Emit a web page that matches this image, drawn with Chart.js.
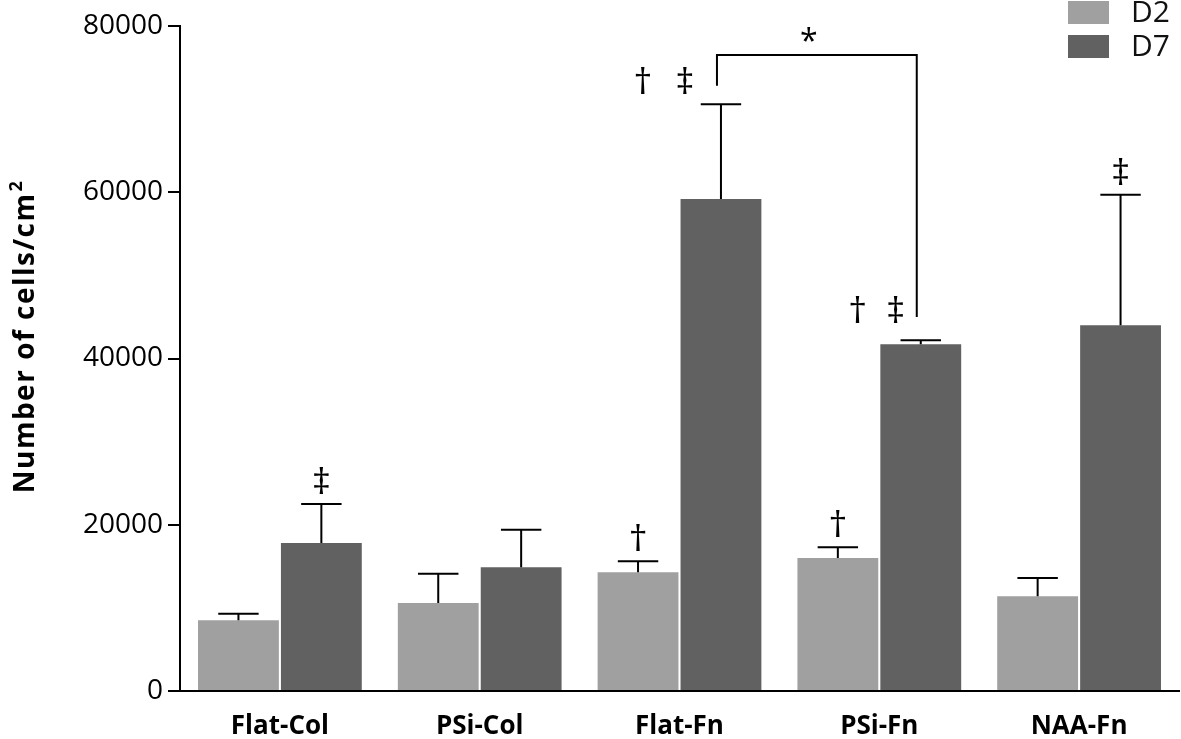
<!DOCTYPE html>
<html>
<head>
<meta charset="utf-8">
<script src="https://cdn.jsdelivr.net/npm/chart.js@4.4.0/dist/chart.umd.min.js"></script>
<style>
  html, body { margin: 0; padding: 0; background: #fff; }
</style>
</head>
<body>
<canvas id="chart" width="1181" height="739"></canvas>
<script>
const categories = ['Flat-Col', 'PSi-Col', 'Flat-Fn', 'PSi-Fn', 'NAA-Fn'];
const seriesNames = ['D2', 'D7'];
const d2Mean = [8500, 10600, 14300, 16000, 11400];
const d2Sd = [800, 3500, 1300, 1300, 2200];
const d7Mean = [17800, 14900, 59200, 41700, 44000];
const d7Sd = [4700, 4500, 11400, 500, 15700];
const yTicks = [0, 20000, 40000, 60000, 80000];

// significance symbols: [category, series, symbol, shift from bar centre px, extra lift px]
const marks = [
    [0, 1, '\u2021', 0, 0],
    [2, 0, '\u2020', 0, 0],
    [3, 0, '\u2020', 0, 0],
    [2, 1, '\u2020', -78, 0], [2, 1, '\u2021', -36, 0],
    [3, 1, '\u2020', -63, 7], [3, 1, '\u2021', -25, 7],
    [4, 1, '\u2021', 0, 0]
];
// bracket Flat-Fn D7 vs PSi-Fn D7
const bracket = { from: 2, to: 3, series: 1, top: 76500, leftEnd: 72800, rightEnd: 45000, label: '*' };

const FONT = '"Open Sans", "Noto Sans", sans-serif';

const errorBarPlugin = {
    id: 'errorBars',
    afterDatasetsDraw(chart) {
        const ctx = chart.ctx;
        const y = chart.scales.y;
        ctx.save();
        ctx.strokeStyle = '#000';
        ctx.lineWidth = 2;
        chart.data.datasets.forEach((ds, i) => {
            const meta = chart.getDatasetMeta(i);
            meta.data.forEach((bar, j) => {
                const top = y.getPixelForValue(ds.data[j] + ds.sd[j]);
                const half = bar.width / 4;
                ctx.beginPath();
                ctx.moveTo(bar.x, bar.y);
                ctx.lineTo(bar.x, top);
                ctx.moveTo(bar.x - half, top);
                ctx.lineTo(bar.x + half, top);
                ctx.stroke();
            });
        });
        ctx.restore();
    }
};

const annotationPlugin = {
    id: 'annotations',
    afterDraw(chart) {
        const ctx = chart.ctx;
        const y = chart.scales.y;
        ctx.save();
        ctx.fillStyle = '#000';
        ctx.textAlign = 'center';
        ctx.textBaseline = 'alphabetic';
        ctx.font = '37px ' + FONT;
        marks.forEach(m => {
            const ds = chart.data.datasets[m[1]];
            const bar = chart.getDatasetMeta(m[1]).data[m[0]];
            const top = y.getPixelForValue(ds.data[m[0]] + ds.sd[m[0]]);
            ctx.fillText(m[2], bar.x + m[3], top - 10 - m[4]);
        });

        // bracket
        const b1 = chart.getDatasetMeta(bracket.series).data[bracket.from];
        const b2 = chart.getDatasetMeta(bracket.series).data[bracket.to];
        const yt = y.getPixelForValue(bracket.top);
        ctx.strokeStyle = '#000';
        ctx.lineWidth = 2;
        ctx.beginPath();
        ctx.moveTo(b1.x - 4, y.getPixelForValue(bracket.leftEnd));
        ctx.lineTo(b1.x - 4, yt);
        ctx.lineTo(b2.x - 4, yt);
        ctx.lineTo(b2.x - 4, y.getPixelForValue(bracket.rightEnd));
        ctx.stroke();
        ctx.font = '32px ' + FONT;
        ctx.fillText(bracket.label, (b1.x + b2.x) / 2 - 12, yt - 3);
        ctx.restore();
    }
};

const legendPlugin = {
    id: 'cornerLegend',
    afterDraw(chart) {
        const ctx = chart.ctx;
        const x0 = chart.width - 113;
        ctx.save();
        chart.data.datasets.forEach((ds, i) => {
            const yy = 1 + i * 34;
            ctx.fillStyle = ds.backgroundColor;
            ctx.fillRect(x0, yy, 41, 23);
            ctx.fillStyle = '#111';
            ctx.font = '30px ' + FONT;
            ctx.textAlign = 'left';
            ctx.textBaseline = 'middle';
            ctx.fillText(ds.label, x0 + 63, yy + 12);
        });
        ctx.restore();
    }
};

const yTitlePlugin = {
    id: 'yTitle',
    afterDraw(chart) {
        const ctx = chart.ctx;
        ctx.save();
        ctx.translate(34, 337);
        ctx.rotate(-Math.PI / 2);
        ctx.fillStyle = '#000';
        ctx.textBaseline = 'alphabetic';
        ctx.letterSpacing = '1.5px';
        ctx.font = 'bold 28px ' + FONT;
        const main = 'Number of cells/cm';
        const w1 = ctx.measureText(main).width;
        ctx.font = 'bold 18px ' + FONT;
        const w2 = ctx.measureText('2').width;
        const start = -(w1 + w2) / 2;
        ctx.font = 'bold 28px ' + FONT;
        ctx.textAlign = 'left';
        ctx.fillText(main, start, 0);
        ctx.font = 'bold 18px ' + FONT;
        ctx.fillText('2', start + w1 + 1, -12);
        ctx.restore();
    }
};

new Chart(document.getElementById('chart'), {
    type: 'bar',
    data: {
        labels: categories,
        datasets: [{
            label: seriesNames[0],
            data: d2Mean,
            sd: d2Sd,
            backgroundColor: '#a0a0a0'
        }, {
            label: seriesNames[1],
            data: d7Mean,
            sd: d7Sd,
            backgroundColor: '#616161'
        }]
    },
    options: {
        responsive: false,
        animation: false,
        devicePixelRatio: 1,
        categoryPercentage: 0.83,
        barPercentage: 0.975,
        layout: { padding: { top: 26, right: 2, left: 0, bottom: 0 } },
        plugins: {
            legend: { display: false },
            tooltip: { enabled: false }
        },
        scales: {
            x: {
                offset: true,
                grid: { display: false, drawTicks: false },
                border: { display: true, color: '#000', width: 2 },
                ticks: {
                    color: '#000',
                    font: { family: FONT, size: 26, weight: 'bold' },
                    padding: 20
                },
                afterFit(scale) { scale.height = 48; }
            },
            y: {
                min: 0,
                max: 80000,
                afterBuildTicks(scale) {
                    scale.ticks = yTicks.map(v => ({ value: v }));
                },
                grid: {
                    drawOnChartArea: false,
                    drawTicks: true,
                    tickLength: 12,
                    color: '#000',
                    lineWidth: 2
                },
                border: { display: true, color: '#000', width: 2 },
                ticks: {
                    color: '#000',
                    font: { family: FONT, size: 28 },
                    padding: 5,
                    callback: v => String(v)
                },
                afterFit(scale) { scale.width = 180; }
            }
        }
    },
    plugins: [errorBarPlugin, annotationPlugin, legendPlugin, yTitlePlugin]
});
</script>
</body>
</html>
